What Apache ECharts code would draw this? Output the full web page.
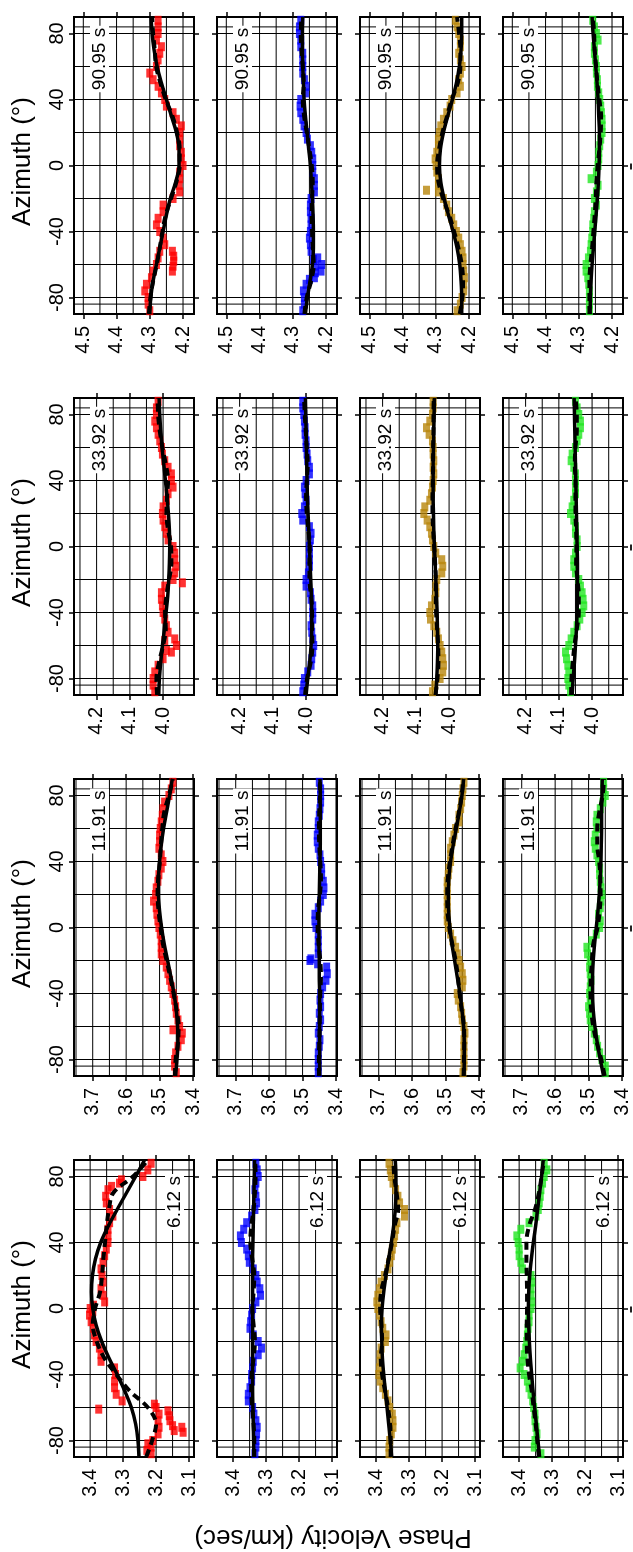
<!DOCTYPE html>
<html>
<head>
<meta charset="utf-8">
<script src="https://cdn.jsdelivr.net/npm/echarts@6/dist/echarts.min.js"></script>
<style>
  html, body { margin: 0; padding: 0; background: #fff; }
  #chart { width: 633px; height: 1552px; }
</style>
</head>
<body>
<div id="chart"></div>
<script>
// ---- Periods (one band each) and axis definitions ----
const PERIODS = ['90.95 s', '33.92 s', '11.91 s', '6.12 s'];
const VEL_RANGE = [[4.167, 4.528], [3.907, 4.268], [3.397, 3.756], [3.085, 3.449]];
const VEL_TICKS = [[4.2, 4.3, 4.4, 4.5], [4.0, 4.1, 4.2], [3.4, 3.5, 3.6, 3.7], [3.1, 3.2, 3.3, 3.4]];
const VEL_GRID = [
  [4.2, 4.25, 4.3, 4.35, 4.4, 4.45, 4.5],
  [3.95, 4.0, 4.05, 4.1, 4.15, 4.2, 4.25],
  [3.4, 3.45, 3.5, 3.55, 3.6, 3.65, 3.7, 3.75],
  [3.1, 3.15, 3.2, 3.25, 3.3, 3.35, 3.4]
];
const AZ_TICKS = [-80, -40, 0, 40, 80];
const AZ_GRID = [-84, -80, -60, -40, -20, 0, 20, 40, 60, 80, 84];

// azimuths of the measured points (deg)
const AZ_PTS = [-88, -84, -80, -76, -72, -68, -64, -60, -56, -52, -48, -44, -40, -36, -32, -28, -24, -20, -16, -12, -8, -4,
  0, 4, 8, 12, 16, 20, 24, 28, 32, 36, 40, 44, 48, 52, 56, 60, 64, 68, 72, 76, 80, 84, 88];
// azimuths of the fitted curves (deg)
const FIT_AZ = [-90, -80, -70, -60, -50, -40, -30, -20, -10, 0, 10, 20, 30, 40, 50, 60, 70, 80, 90];

// ---- 90.95 s ----
const ptsRed90 = [4.30, 4.305, 4.305, 4.315, 4.31, 4.295, 4.29, 4.28, 4.275, 4.27, 4.255, 4.26, 4.27, 4.28, 4.275, 4.26, 4.26, 4.23, 4.21, 4.212, 4.21, 4.21,
  4.20, 4.205, 4.205, 4.21, 4.21, 4.21, 4.205, 4.22, 4.23, 4.25, 4.255, 4.265, 4.275, 4.29, 4.30, 4.28, 4.275, 4.27, 4.265, 4.28, 4.275, 4.275, 4.275];
const extraRed90 = [[-52, 4.232], [-55, 4.228], [-58, 4.228], [-61, 4.23], [-64, 4.232]];
const fitRed90 = [4.30, 4.297, 4.29, 4.28, 4.27, 4.26, 4.25, 4.238, 4.222, 4.212, 4.212, 4.22, 4.235, 4.25, 4.265, 4.278, 4.287, 4.293, 4.296];
const dashRed90 = [4.303, 4.298, 4.29, 4.279, 4.27, 4.262, 4.252, 4.236, 4.22, 4.21, 4.21, 4.218, 4.232, 4.252, 4.268, 4.281, 4.285, 4.29, 4.293];

const ptsBlue90 = [4.27, 4.265, 4.265, 4.268, 4.26, 4.235, 4.215, 4.213, 4.225, 4.245, 4.247, 4.25, 4.247, 4.245, 4.245, 4.247, 4.247, 4.245, 4.235, 4.235, 4.235, 4.24,
  4.24, 4.24, 4.243, 4.247, 4.256, 4.26, 4.266, 4.27, 4.276, 4.278, 4.276, 4.262, 4.26, 4.265, 4.27, 4.27, 4.27, 4.27, 4.276, 4.276, 4.28, 4.28, 4.276];
const extraBlue90 = [[-57, 4.238], [-61, 4.232], [-65, 4.232], [-69, 4.25]];
const fitBlue90 = [4.262, 4.256, 4.248, 4.241, 4.238, 4.238, 4.239, 4.241, 4.244, 4.247, 4.252, 4.257, 4.262, 4.266, 4.268, 4.27, 4.271, 4.271, 4.27];
const dashBlue90 = [4.265, 4.258, 4.245, 4.237, 4.24, 4.242, 4.243, 4.242, 4.24, 4.243, 4.25, 4.258, 4.266, 4.27, 4.267, 4.27, 4.274, 4.276, 4.274];

const ptsBrown90 = [4.236, 4.226, 4.221, 4.216, 4.216, 4.214, 4.216, 4.218, 4.218, 4.221, 4.226, 4.231, 4.238, 4.246, 4.252, 4.262, 4.267, 4.277, 4.292, 4.292, 4.292, 4.297,
  4.299, 4.302, 4.297, 4.292, 4.292, 4.289, 4.285, 4.277, 4.267, 4.257, 4.252, 4.236, 4.226, 4.231, 4.226, 4.221, 4.226, 4.231, 4.226, 4.226, 4.231, 4.236, 4.241];
const extraBrown90 = [[-15, 4.328]];
const fitBrown90 = [4.222, 4.222, 4.224, 4.228, 4.236, 4.248, 4.262, 4.275, 4.285, 4.289, 4.286, 4.277, 4.264, 4.25, 4.238, 4.229, 4.224, 4.222, 4.222];
const dashBrown90 = [4.228, 4.22, 4.218, 4.222, 4.232, 4.245, 4.26, 4.278, 4.292, 4.296, 4.29, 4.28, 4.266, 4.252, 4.234, 4.226, 4.226, 4.23, 4.236];

const ptsGreen90 = [4.268, 4.268, 4.268, 4.268, 4.27, 4.273, 4.278, 4.278, 4.271, 4.265, 4.263, 4.261, 4.258, 4.258, 4.255, 4.253, 4.247, 4.253, 4.247, 4.242, 4.263, 4.247,
  4.242, 4.24, 4.24, 4.237, 4.234, 4.23, 4.23, 4.23, 4.232, 4.234, 4.237, 4.24, 4.244, 4.244, 4.247, 4.247, 4.25, 4.253, 4.253, 4.242, 4.247, 4.253, 4.258];
const extraGreen90 = [];
const fitGreen90 = [4.266, 4.265, 4.263, 4.26, 4.256, 4.252, 4.248, 4.244, 4.241, 4.239, 4.238, 4.238, 4.24, 4.242, 4.245, 4.249, 4.253, 4.257, 4.26];
const dashGreen90 = [4.268, 4.268, 4.268, 4.265, 4.26, 4.256, 4.252, 4.249, 4.247, 4.243, 4.238, 4.234, 4.233, 4.238, 4.244, 4.248, 4.252, 4.254, 4.258];

// ---- 33.92 s ----
const ptsRed34 = [4.025, 4.03, 4.03, 4.025, 4.015, 4.00, 3.975, 3.96, 3.965, 3.985, 3.99, 3.995, 4.00, 4.002, 4.005, 4.005, 3.995, 3.97, 3.965, 3.962, 3.965, 3.965,
  3.97, 3.985, 3.99, 3.995, 4.00, 4.002, 4.00, 3.99, 3.985, 3.97, 3.975, 3.975, 3.985, 3.995, 4.002, 4.005, 4.01, 4.015, 4.02, 4.025, 4.02, 4.02, 4.015];
const extraRed34 = [[-22, 3.942], [-57, 3.995], [-63, 3.99]];
const fitRed34 = [4.013, 4.011, 4.007, 4.002, 3.996, 3.991, 3.986, 3.983, 3.981, 3.98, 3.981, 3.984, 3.988, 3.993, 3.998, 4.003, 4.007, 4.01, 4.012];
const dashRed34 = [4.018, 4.02, 4.012, 4.0, 3.992, 3.994, 3.99, 3.982, 3.975, 3.976, 3.985, 3.99, 3.988, 3.985, 3.992, 4.002, 4.01, 4.015, 4.016];

const ptsBlue34 = [4.01, 4.007, 4.005, 3.995, 3.985, 3.983, 3.98, 3.977, 3.98, 3.983, 3.985, 3.98, 3.98, 3.98, 3.985, 3.987, 4.00, 4.00, 3.993, 3.99, 3.99, 3.99,
  3.99, 3.987, 3.985, 3.99, 4.01, 4.013, 4.005, 4.00, 4.003, 4.005, 4.00, 3.99, 3.99, 3.995, 3.997, 4.00, 4.00, 4.003, 4.003, 4.005, 4.007, 4.01, 4.01];
const extraBlue34 = [];
const fitBlue34 = [4.0, 3.995, 3.989, 3.985, 3.983, 3.983, 3.984, 3.986, 3.988, 3.99, 3.992, 3.994, 3.996, 3.997, 3.998, 3.999, 4.0, 4.001, 4.002];
const dashBlue34 = [4.003, 3.997, 3.986, 3.981, 3.982, 3.982, 3.985, 3.99, 3.99, 3.989, 3.993, 3.998, 4.0, 3.998, 3.995, 3.998, 4.001, 4.004, 4.006];

const ptsBrown34 = [4.05, 4.043, 4.027, 4.019, 4.017, 4.019, 4.022, 4.027, 4.032, 4.037, 4.046, 4.056, 4.058, 4.053, 4.043, 4.04, 4.04, 4.037, 4.022, 4.019, 4.022, 4.04,
  4.046, 4.05, 4.053, 4.058, 4.066, 4.076, 4.073, 4.058, 4.053, 4.05, 4.048, 4.046, 4.048, 4.046, 4.048, 4.048, 4.05, 4.06, 4.068, 4.058, 4.05, 4.048, 4.048];
const extraBrown34 = [];
const fitBrown34 = [4.04, 4.037, 4.035, 4.034, 4.035, 4.036, 4.038, 4.04, 4.042, 4.044, 4.046, 4.047, 4.048, 4.048, 4.048, 4.047, 4.046, 4.045, 4.044];
const dashBrown34 = [4.041, 4.035, 4.032, 4.033, 4.036, 4.039, 4.04, 4.04, 4.042, 4.045, 4.048, 4.05, 4.05, 4.049, 4.048, 4.048, 4.047, 4.047, 4.046];

const ptsGreen34 = [4.065, 4.07, 4.073, 4.07, 4.073, 4.077, 4.08, 4.07, 4.063, 4.055, 4.045, 4.037, 4.03, 4.025, 4.027, 4.03, 4.035, 4.04, 4.05, 4.055, 4.055, 4.05,
  4.045, 4.045, 4.05, 4.05, 4.055, 4.065, 4.06, 4.055, 4.05, 4.05, 4.05, 4.05, 4.055, 4.063, 4.06, 4.05, 4.045, 4.04, 4.035, 4.035, 4.04, 4.045, 4.05];
const extraGreen34 = [];
const fitGreen34 = [4.06, 4.057, 4.053, 4.05, 4.047, 4.045, 4.044, 4.044, 4.044, 4.045, 4.046, 4.047, 4.048, 4.049, 4.05, 4.051, 4.052, 4.053, 4.054];
const dashGreen34 = [4.063, 4.062, 4.058, 4.053, 4.046, 4.04, 4.04, 4.044, 4.048, 4.047, 4.048, 4.05, 4.05, 4.05, 4.052, 4.05, 4.046, 4.046, 4.05];

// ---- 11.91 s ----
const ptsRed12 = [3.45, 3.455, 3.455, 3.452, 3.445, 3.435, 3.432, 3.44, 3.445, 3.45, 3.452, 3.455, 3.46, 3.465, 3.47, 3.475, 3.48, 3.49, 3.495, 3.495, 3.495, 3.498,
  3.502, 3.505, 3.508, 3.51, 3.518, 3.512, 3.51, 3.505, 3.502, 3.495, 3.49, 3.495, 3.502, 3.50, 3.50, 3.498, 3.495, 3.492, 3.49, 3.485, 3.472, 3.465, 3.46];
const extraRed12 = [[-62, 3.46]];
const fitRed12 = [3.452, 3.448, 3.445, 3.446, 3.45, 3.457, 3.466, 3.476, 3.486, 3.494, 3.5, 3.503, 3.503, 3.5, 3.495, 3.488, 3.479, 3.47, 3.462];
const dashRed12 = [3.454, 3.452, 3.445, 3.443, 3.449, 3.458, 3.468, 3.479, 3.49, 3.497, 3.503, 3.506, 3.504, 3.499, 3.496, 3.492, 3.486, 3.472, 3.46];

const ptsBlue12 = [3.453, 3.453, 3.453, 3.453, 3.45, 3.448, 3.453, 3.45, 3.446, 3.45, 3.446, 3.448, 3.446, 3.44, 3.43, 3.426, 3.428, 3.478, 3.453, 3.453, 3.453, 3.453,
  3.46, 3.463, 3.463, 3.453, 3.446, 3.438, 3.436, 3.438, 3.443, 3.443, 3.446, 3.448, 3.453, 3.456, 3.456, 3.453, 3.453, 3.45, 3.448, 3.446, 3.446, 3.446, 3.45];
const extraBlue12 = [[-19, 3.475], [-22, 3.455]];
const fitBlue12 = [3.449, 3.449, 3.449, 3.449, 3.449, 3.449, 3.45, 3.45, 3.451, 3.451, 3.451, 3.45, 3.449, 3.448, 3.447, 3.447, 3.447, 3.447, 3.448];
const dashBlue12 = [3.451, 3.451, 3.45, 3.449, 3.448, 3.447, 3.445, 3.447, 3.452, 3.455, 3.454, 3.448, 3.445, 3.447, 3.45, 3.451, 3.45, 3.448, 3.448];

const ptsBrown12 = [3.448, 3.445, 3.445, 3.445, 3.445, 3.445, 3.442, 3.445, 3.45, 3.452, 3.455, 3.462, 3.465, 3.45, 3.448, 3.45, 3.455, 3.46, 3.465, 3.47, 3.478, 3.485,
  3.492, 3.495, 3.495, 3.495, 3.495, 3.495, 3.495, 3.495, 3.492, 3.49, 3.485, 3.485, 3.485, 3.48, 3.475, 3.47, 3.46, 3.46, 3.455, 3.452, 3.45, 3.448, 3.445];
const extraBrown12 = [];
const fitBrown12 = [3.445, 3.444, 3.444, 3.446, 3.451, 3.457, 3.465, 3.473, 3.481, 3.487, 3.491, 3.492, 3.49, 3.485, 3.477, 3.468, 3.459, 3.451, 3.446];
const dashBrown12 = [3.446, 3.445, 3.444, 3.445, 3.452, 3.458, 3.463, 3.47, 3.48, 3.489, 3.494, 3.495, 3.493, 3.487, 3.479, 3.47, 3.46, 3.452, 3.447];

const ptsGreen12 = [3.45, 3.45, 3.46, 3.467, 3.473, 3.477, 3.483, 3.49, 3.495, 3.497, 3.50, 3.495, 3.497, 3.495, 3.493, 3.495, 3.497, 3.495, 3.503, 3.505, 3.49, 3.477,
  3.467, 3.465, 3.47, 3.465, 3.463, 3.46, 3.463, 3.465, 3.467, 3.467, 3.47, 3.475, 3.48, 3.483, 3.48, 3.475, 3.477, 3.475, 3.465, 3.457, 3.45, 3.455, 3.455];
const extraGreen12 = [];
const fitGreen12 = [3.455, 3.465, 3.474, 3.481, 3.486, 3.488, 3.488, 3.486, 3.482, 3.477, 3.472, 3.468, 3.465, 3.463, 3.462, 3.461, 3.461, 3.46, 3.459];
const dashGreen12 = [3.452, 3.462, 3.475, 3.486, 3.492, 3.494, 3.493, 3.49, 3.486, 3.473, 3.467, 3.464, 3.465, 3.468, 3.474, 3.474, 3.468, 3.458, 3.454];

// ---- 6.12 s ----
const ptsRed6 = [3.215, 3.215, 3.21, 3.194, 3.191, 3.194, 3.191, 3.20, 3.303, 3.321, 3.326, 3.326, 3.323, 3.326, 3.367, 3.367, 3.372, 3.382, 3.387, 3.39, 3.397, 3.402,
  3.40, 3.356, 3.361, 3.367, 3.361, 3.364, 3.367, 3.361, 3.356, 3.351, 3.346, 3.346, 3.346, 3.341, 3.331, 3.341, 3.351, 3.353, 3.346, 3.311, 3.24, 3.225, 3.215];
const extraRed6 = [[-61, 3.374], [-62, 3.164], [-65, 3.16], [-68, 3.158], [-71, 3.15], [-74, 3.145], [-72, 3.122], [-75, 3.118],
  [-58, 3.205], [-82, 3.225], [-86, 3.228], [78, 3.305], [74, 3.335], [-2, 3.392], [2, 3.39]];
const fitRed6 = [3.252, 3.255, 3.262, 3.275, 3.295, 3.318, 3.343, 3.365, 3.382, 3.392, 3.396, 3.393, 3.384, 3.368, 3.345, 3.318, 3.29, 3.262, 3.235];
const dashRed6 = [3.23, 3.212, 3.20, 3.225, 3.28, 3.321, 3.357, 3.38, 3.392, 3.385, 3.37, 3.364, 3.36, 3.355, 3.35, 3.343, 3.33, 3.27, 3.225];

const ptsBlue6 = [3.334, 3.331, 3.331, 3.329, 3.327, 3.331, 3.337, 3.341, 3.354, 3.354, 3.349, 3.344, 3.344, 3.341, 3.339, 3.324, 3.314, 3.324, 3.339, 3.349, 3.347, 3.344,
  3.341, 3.331, 3.317, 3.319, 3.327, 3.331, 3.339, 3.351, 3.354, 3.359, 3.375, 3.378, 3.368, 3.359, 3.344, 3.334, 3.329, 3.331, 3.334, 3.331, 3.324, 3.327, 3.331];
const extraBlue6 = [];
const fitBlue6 = [3.337, 3.338, 3.339, 3.34, 3.341, 3.341, 3.341, 3.341, 3.341, 3.341, 3.341, 3.341, 3.341, 3.34, 3.339, 3.338, 3.337, 3.336, 3.335];
const dashBlue6 = [3.336, 3.336, 3.338, 3.342, 3.345, 3.344, 3.338, 3.334, 3.338, 3.342, 3.338, 3.336, 3.342, 3.348, 3.345, 3.338, 3.334, 3.332, 3.333];

const ptsBrown6 = [3.361, 3.361, 3.359, 3.354, 3.349, 3.349, 3.351, 3.359, 3.364, 3.372, 3.38, 3.388, 3.392, 3.39, 3.388, 3.388, 3.385, 3.372, 3.37, 3.38, 3.385, 3.39,
  3.395, 3.398, 3.395, 3.39, 3.385, 3.375, 3.364, 3.359, 3.354, 3.351, 3.347, 3.344, 3.341, 3.337, 3.314, 3.314, 3.329, 3.334, 3.341, 3.349, 3.354, 3.357, 3.361];
const extraBrown6 = [];
const fitBrown6 = [3.353, 3.357, 3.362, 3.367, 3.372, 3.377, 3.381, 3.383, 3.384, 3.382, 3.377, 3.37, 3.362, 3.354, 3.347, 3.342, 3.34, 3.34, 3.342];
const dashBrown6 = [3.356, 3.356, 3.358, 3.364, 3.373, 3.382, 3.386, 3.382, 3.384, 3.388, 3.385, 3.373, 3.362, 3.352, 3.344, 3.333, 3.338, 3.345, 3.348];

const ptsGreen6 = [3.334, 3.354, 3.352, 3.346, 3.349, 3.352, 3.352, 3.356, 3.359, 3.364, 3.37, 3.375, 3.385, 3.397, 3.39, 3.385, 3.38, 3.377, 3.375, 3.373, 3.37, 3.37,
  3.364, 3.362, 3.364, 3.364, 3.362, 3.364, 3.39, 3.395, 3.40, 3.40, 3.403, 3.407, 3.395, 3.37, 3.349, 3.342, 3.339, 3.336, 3.334, 3.329, 3.324, 3.316, 3.324];
const extraGreen6 = [];
const fitGreen6 = [3.338, 3.343, 3.348, 3.353, 3.358, 3.362, 3.366, 3.369, 3.371, 3.372, 3.371, 3.368, 3.363, 3.357, 3.35, 3.344, 3.338, 3.332, 3.327];
const dashGreen6 = [3.34, 3.345, 3.35, 3.356, 3.362, 3.37, 3.375, 3.377, 3.377, 3.376, 3.376, 3.377, 3.378, 3.378, 3.37, 3.352, 3.34, 3.332, 3.325];

// ---- station colours (columns) ----
const COLORS = ['#ff0000', '#0000ff', '#b8860b', '#22e622'];

// panel table: [band][column] -> [points, extra points, solid fit, dashed fit]
const PANELS = [
  [[ptsRed90, extraRed90, fitRed90, dashRed90], [ptsBlue90, extraBlue90, fitBlue90, dashBlue90],
   [ptsBrown90, extraBrown90, fitBrown90, dashBrown90], [ptsGreen90, extraGreen90, fitGreen90, dashGreen90]],
  [[ptsRed34, extraRed34, fitRed34, dashRed34], [ptsBlue34, extraBlue34, fitBlue34, dashBlue34],
   [ptsBrown34, extraBrown34, fitBrown34, dashBrown34], [ptsGreen34, extraGreen34, fitGreen34, dashGreen34]],
  [[ptsRed12, extraRed12, fitRed12, dashRed12], [ptsBlue12, extraBlue12, fitBlue12, dashBlue12],
   [ptsBrown12, extraBrown12, fitBrown12, dashBrown12], [ptsGreen12, extraGreen12, fitGreen12, dashGreen12]],
  [[ptsRed6, extraRed6, fitRed6, dashRed6], [ptsBlue6, extraBlue6, fitBlue6, dashBlue6],
   [ptsBrown6, extraBrown6, fitBrown6, dashBrown6], [ptsGreen6, extraGreen6, fitGreen6, dashGreen6]]
];

// ---- layout ----
const COL_LEFT = [74, 217, 360, 503];
const BAND_TOP = [17, 398, 779, 1160];
const PANEL_W = 120, PANEL_H = 297;
const FONT = '"Liberation Sans", Arial, Helvetica, sans-serif';

const grids = [], xAxes = [], yAxes = [], series = [], graphics = [];
const tick = (vals) => ({ show: true, inside: false, length: 5, customValues: vals, lineStyle: { color: '#000', width: 1.5 } });
// axes stay on the panel edges (never moved onto the other axis' zero)
const noLine = () => ({ show: false, onZero: false });

// Grid lines as one serpentine path: the turns run along the panel frame,
// so only the interior segments show.
function verticalGridPath(vals) {
  const out = [];
  vals.forEach((v, i) => {
    if (i % 2 === 0) { out.push([v, -90], [v, 90]); } else { out.push([v, 90], [v, -90]); }
  });
  return out;
}
function horizontalGridPath(vals, vmin, vmax) {
  const out = [];
  vals.forEach((a, i) => {
    if (i % 2 === 0) { out.push([vmin, a], [vmax, a]); } else { out.push([vmax, a], [vmin, a]); }
  });
  return out;
}

let g = 0;
for (let b = 0; b < 4; b++) {
  for (let c = 0; c < 4; c++) {
    const [vmin, vmax] = VEL_RANGE[b];
    grids.push({
      left: COL_LEFT[c], top: BAND_TOP[b], width: PANEL_W, height: PANEL_H,
      show: true, borderColor: '#000', borderWidth: 2, backgroundColor: 'transparent',
      containLabel: false, outerBoundsMode: 'none'
    });
    // velocity axis (horizontal, decreasing to the right) with ticks on both sides
    xAxes.push({
      gridIndex: g, type: 'value', position: 'bottom', min: vmin, max: vmax, inverse: true,
      axisLine: noLine(), splitLine: { show: false }, axisTick: tick(VEL_TICKS[b]),
      axisLabel: {
        show: true, customValues: VEL_TICKS[b], rotate: 90, margin: 12, fontSize: 20,
        fontFamily: FONT, color: '#000', formatter: v => Number(v).toFixed(1)
      }
    });
    xAxes.push({
      gridIndex: g, type: 'value', position: 'top', min: vmin, max: vmax, inverse: true,
      axisLine: noLine(), splitLine: { show: false }, axisTick: tick(VEL_TICKS[b]),
      axisLabel: { show: false }
    });
    // azimuth axis (vertical) with ticks on both sides, labels on the first column
    yAxes.push({
      gridIndex: g, type: 'value', position: 'left', min: -90, max: 90,
      axisLine: noLine(), splitLine: { show: false }, axisTick: tick(AZ_TICKS),
      axisLabel: {
        show: c === 0, customValues: AZ_TICKS, rotate: 90, margin: 7, fontSize: 20,
        fontFamily: FONT, color: '#000'
      }
    });
    yAxes.push({
      gridIndex: g, type: 'value', position: 'right', min: -90, max: 90,
      axisLine: noLine(), splitLine: { show: false }, axisTick: tick(AZ_TICKS),
      axisLabel: { show: false }
    });

    const xi = 2 * g, yi = 2 * g;
    const [pts, extra, fit, dash] = PANELS[b][c];

    // grid lines
    series.push({
      type: 'line', xAxisIndex: xi, yAxisIndex: yi, z: 1, silent: true,
      showSymbol: false, symbol: 'none', smooth: false,
      lineStyle: { color: '#000', width: 1 },
      data: verticalGridPath(VEL_GRID[b])
    });
    series.push({
      type: 'line', xAxisIndex: xi, yAxisIndex: yi, z: 1, silent: true,
      showSymbol: false, symbol: 'none', smooth: false,
      lineStyle: { color: '#000', width: 1 },
      data: horizontalGridPath(AZ_GRID, vmin, vmax)
    });
    // measured phase velocities
    series.push({
      type: 'scatter', xAxisIndex: xi, yAxisIndex: yi, z: 3, silent: true,
      symbol: 'rect', symbolSize: [7, 9], itemStyle: { color: COLORS[c] },
      data: pts.map((v, i) => [v, AZ_PTS[i]]).concat(extra.map(p => [p[1], p[0]]))
    });
    // dashed fit
    series.push({
      type: 'line', xAxisIndex: xi, yAxisIndex: yi, z: 4, silent: true, smooth: 0.35,
      showSymbol: false, symbol: 'none',
      lineStyle: { color: '#000', width: 4, type: [8, 5] },
      data: dash.map((v, i) => [v, FIT_AZ[i]])
    });
    // solid fit
    series.push({
      type: 'line', xAxisIndex: xi, yAxisIndex: yi, z: 5, silent: true, smooth: 0.35,
      showSymbol: false, symbol: 'none',
      lineStyle: { color: '#000', width: 3.5 },
      data: fit.map((v, i) => [v, FIT_AZ[i]])
    });

    // period label inside the panel
    graphics.push({
      type: 'text', x: COL_LEFT[c] + (b === 3 ? 100.5 : 25.5), y: BAND_TOP[b] + 42,
      rotation: Math.PI / 2, z: 50,
      style: {
        text: PERIODS[b], fontSize: 19, fontFamily: FONT, fill: '#000',
        backgroundColor: '#fff', padding: [0, 2],
        align: 'center', verticalAlign: 'middle'
      }
    });
    g++;
  }
  // azimuth axis title for the band
  graphics.push({
    type: 'text', x: 23, y: BAND_TOP[b] + PANEL_H / 2 - 4, rotation: Math.PI / 2, z: 50,
    style: { text: 'Azimuth (°)', fontSize: 26, fontFamily: FONT, fill: '#000', align: 'center', verticalAlign: 'middle' }
  });
  // small clipped mark at the right page edge
  graphics.push({
    type: 'rect', shape: { x: 630, y: BAND_TOP[b] + PANEL_H / 2 - 2, width: 2, height: 6 },
    style: { fill: '#222' }, z: 50
  });
}
// velocity axis title
graphics.push({
  type: 'text', x: 333, y: 1537, rotation: Math.PI, z: 50,
  style: { text: 'Phase Velocity (km/sec)', fontSize: 26, fontFamily: FONT, fill: '#000', align: 'center', verticalAlign: 'middle' }
});

const chart = echarts.init(document.getElementById('chart'), null, { renderer: 'canvas' });
chart.setOption({
  animation: false,
  backgroundColor: '#fff',
  grid: grids,
  xAxis: xAxes,
  yAxis: yAxes,
  series: series,
  graphic: graphics
});
</script>
</body>
</html>
